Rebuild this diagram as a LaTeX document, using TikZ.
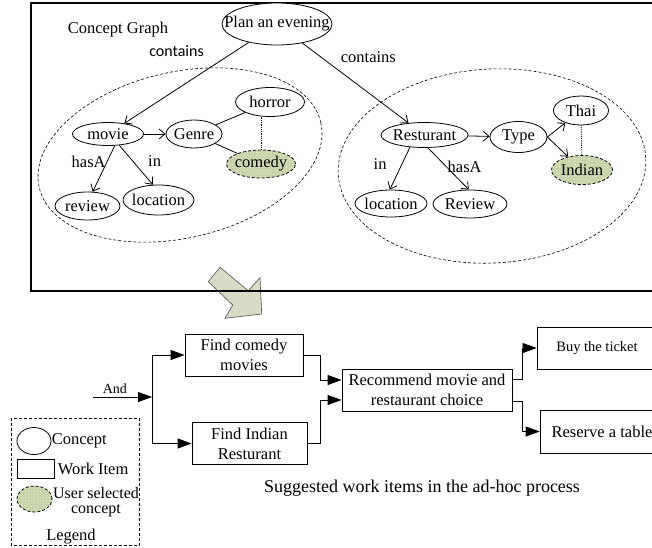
\documentclass[tikz,border=0pt]{standalone}
\usepackage{fontspec}
\setmainfont{Liberation Serif}
\newfontfamily\calfont{Carlito}
\usepackage{tikz}
\usetikzlibrary{positioning,arrows.meta,calc,shapes.geometric,patterns}
\usepackage{xcolor}
\definecolor{selgreen}{RGB}{198,210,166}
\definecolor{arrowfill}{RGB}{214,221,196}
\newcommand{\ctxt}[1]{\makebox[0pt]{#1}}

\begin{document}
\begin{tikzpicture}[x=1pt,y=-1pt,line width=0.8pt,
  every node/.style={font=\fontsize{16.5}{20}\selectfont},
  concept/.style={ellipse,draw,fill=white,inner sep=0pt},
  chosen/.style={ellipse,draw,inner sep=0pt,densely dashed,preaction={fill=selgreen},pattern=crosshatch dots,pattern color=white!55!selgreen},
  work/.style={rectangle,draw,fill=white,align=center,inner sep=0pt},
  cedge/.style={-{Straight Barb[length=6pt,width=10pt]}},
  flow/.style={-{Triangle[length=14pt,width=10pt]}},
  group/.style={densely dashed,line width=0.6pt}]
\useasboundingbox (0,0) rectangle (652,547);
\clip (0,0) rectangle (652,547);

% arrow from the graph down to the work items
\filldraw[fill=arrowfill,draw=gray!60!black,line width=0.6pt] (208.3,281.7) -- (220,267.3) -- (248.3,290.7) -- (260,277.7) -- (261.7,314) -- (225,318.3) -- (232.7,305) -- cycle;
\draw[line width=1.2pt] (31,3) rectangle (700,291);

% concept graph
\node (title) at (118,30) {Concept Graph};
\draw[group,rotate around={13:(180,155)}] (180,155) ellipse [x radius=144.5pt,y radius=83pt];
\draw[group,rotate around={3:(492,166)}] (492,166) ellipse [x radius=154pt,y radius=97pt];

\node[concept,minimum width=110,minimum height=42] (plan) at (277,24) {\ctxt{Plan an evening}};

\node[concept,minimum width=71,minimum height=23] (movie) at (108,134) {\ctxt{movie}};
\node[concept,minimum width=56,minimum height=28] (genre) at (194,134) {\ctxt{Genre}};
\node[concept,minimum width=69,minimum height=29] (horror) at (270,102) {\ctxt{horror}};
\node[chosen,minimum width=69,minimum height=28] (comedy) at (261,164) {\ctxt{comedy}};
\node[concept,minimum width=65,minimum height=28] (review) at (87.5,206) {\ctxt{review}};
\node[concept,minimum width=71,minimum height=30] (loc1) at (158.5,200) {\ctxt{location}};

\node[concept,minimum width=87,minimum height=25] (rest) at (424.5,135) {\ctxt{Resturant}};
\node[concept,minimum width=57,minimum height=31] (type) at (518.5,137) {\ctxt{Type}};
\node[concept,minimum width=55,minimum height=29] (thai) at (581,110.5) {\ctxt{Thai}};
\node[chosen,minimum width=61,minimum height=29] (indian) at (582,170) {\ctxt{Indian}};
\node[concept,minimum width=72,minimum height=27] (loc2) at (391,203.5) {\ctxt{location}};
\node[concept,minimum width=74,minimum height=28] (rev2) at (470,204) {\ctxt{Review}};

\draw[cedge] (plan) -- node[pos=0.35,above left=13pt and 0pt,inner sep=1pt,font=\calfont\fontsize{16}{18}\selectfont] {contains} (movie);
\draw[cedge] (plan) -- node[pos=0.35,above right=7pt and 0pt,inner sep=1pt] {contains} (rest);

\draw[cedge] (movie) -- (genre);
\draw (genre) -- (horror);
\draw (genre) -- (comedy);
\draw[densely dotted] (comedy.north) -- (comedy.north |- horror.south);
\draw[cedge] (movie.-60) -- node[pos=0.35,left,inner sep=1pt] {hasA} (review.70);
\draw[cedge] (movie.-45) -- node[pos=0.4,right=14pt,inner sep=1pt] {in} (loc1.110);

\draw[cedge] (rest) -- (type);
\draw[cedge] (type.east) -- (thai);
\draw[cedge] (type.east) -- (indian);
\draw[densely dotted] (thai) -- (indian);
\draw[cedge] (rest.-140) -- node[pos=0.4,left=14pt,inner sep=1pt] {in} (loc2.95);
\draw[cedge] (rest.-75) -- node[pos=0.45,right,inner sep=1pt] {hasA} (rev2.95);

% suggested work items
\node[work,minimum width=118,minimum height=42] (findcom) at (244,355) {Find comedy\\movies};
\node[work,minimum width=115,minimum height=42] (findind) at (249.5,443.5) {Find Indian\\Resturant};
\node[work,minimum width=170,minimum height=42] (rec) at (427,390) {Recommend movie and\\restaurant choice};
\node[work,minimum width=120,minimum height=42,font=\fontsize{14.5}{17}\selectfont] (buy) at (597,348) {Buy the ticket};
\node[work,minimum width=124,minimum height=43] (reserve) at (602,431.5) {Reserve a table};
\node[font=\fontsize{18}{21}\selectfont] (caption) at (422,488) {Suggested work items in the ad-hoc process};

\coordinate (andin) at (93,397);
\coordinate (split) at (152,397);
\draw[flow] (andin) -- node[pos=0.37,above,font=\fontsize{14}{16}\selectfont] {And} (split);
\draw[flow] (split) |- (findcom.west);
\draw[flow] (split) |- (findind.west);
\draw[flow] (findcom.east) -- ++(17,0) |- ([yshift=10pt]rec.west);
\draw[flow] (findind.east) -- ++(13,0) |- ([yshift=-10pt]rec.west);
\draw[flow] ([yshift=11pt]rec.east) -- ++(10,0) |- (buy.west);
\draw[flow] ([yshift=-11pt]rec.east) -- ++(10,0) |- (reserve.west);

% legend
\draw[densely dashed,line width=0.6pt] (11,418) rectangle (139,545.5);
\node[concept,minimum width=34,minimum height=27] (legc) at (34,441) {};
\node[anchor=west,inner sep=0pt] (legctxt) at (legc.east) {Concept};
\node[draw,minimum width=37,minimum height=19,inner sep=0pt] (legw) at (35.5,468.5) {};
\node[anchor=west,inner sep=0pt] (legwtxt) at ([xshift=3pt]legw.east) {Work Item};
\node[chosen,minimum width=35,minimum height=26] (legs) at (34.5,499) {};
\node[align=center,inner sep=0pt,font=\fontsize{16}{15}\selectfont] (legstxt) at (96,502) {User selected\\concept};
\node[inner sep=0pt] (legtitle) at (71,537) {Legend};
\end{tikzpicture}
\end{document}
